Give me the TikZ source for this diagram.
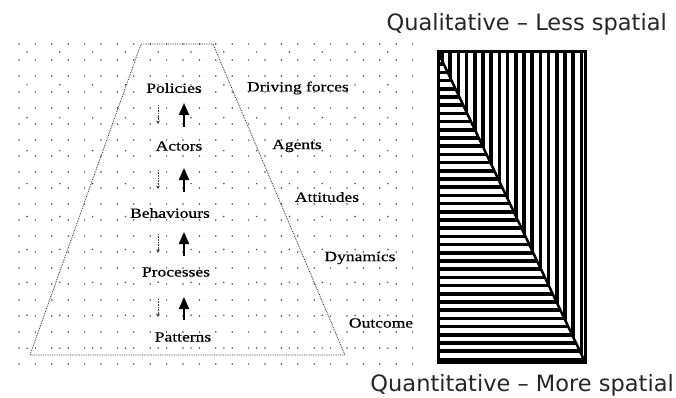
\documentclass[tikz,border=0pt]{standalone}
\usepackage{fontspec}
\usetikzlibrary{arrows.meta}
\newfontfamily\headfont{DejaVu Sans}
\newfontfamily\lblfont[FakeStretch=1.25,FakeBold=0.6]{Liberation Serif}
\begin{document}
\begin{tikzpicture}[x=1pt,y=-1pt,
  griddot/.style={fill=black!70},
  lbl/.style={font=\lblfont\fontsize{14}{15}\selectfont, inner sep=0pt},
  head/.style={font=\headfont\fontsize{22.5}{24}\selectfont, inner sep=0pt, text=black!85},
  uparrow/.style={line width=2pt, -{Triangle[width=10pt,length=12pt]}},
  downarrow/.style={densely dotted, semithick, black!75, -{Stealth[length=3.5pt,width=4pt]}},
  boundary/.style={densely dotted, thick, black!85}]
\useasboundingbox (0,0) rectangle (676,398);
\fill[white] (0,0) rectangle (676,398);
% dot grid
\foreach \j in {0,...,20} {
  \foreach \i in {0,...,24} {
    \fill[griddot] (19+16.4*\i, 44+16*\j) circle (0.85);
  }
}
\foreach \j in {0,...,9} {
  \foreach \i in {0,...,11} {
    \fill[griddot] (27+32.8*\i, 52+32.9*\j) circle (0.85);
  }
}
% dotted trapezoid
\coordinate (tl) at (141,44);
\coordinate (tr) at (213,44);
\coordinate (br) at (345,355);
\coordinate (bl) at (30,355);
\draw[boundary] (tl) -- (tr) -- (br) -- (bl) -- cycle;
% labels
\node[lbl] (pol) at (174,88) {Policies};
\node[lbl] (act) at (179,146) {Actors};
\node[lbl] (beh) at (170,213) {Behaviours};
\node[lbl] (pro) at (176,272) {Processes};
\node[lbl] (pat) at (183,337) {Patterns};
\node[lbl] (drv) at (298,88) {Driving forces};
\node[lbl] (agt) at (297,146) {Agents};
\node[lbl] (att) at (327,197) {Attitudes};
\node[lbl] (dyn) at (360,258) {Dynamics};
\node[lbl] (out) at (381,323) {Outcome};
% arrows
\foreach \a/\b [count=\k] in {103/127, 168/192, 232/256, 297/320} {
  \coordinate (ua\k) at (184,\b);
  \coordinate (ub\k) at (184,\a);
  \draw[uparrow] (ua\k) -- (ub\k);
  \coordinate (da\k) at (158,\a+2);
  \coordinate (db\k) at (158,\b-3);
  \draw[downarrow] (da\k) -- (db\k);
}
% right panel
\coordinate (rtl) at (438,52);
\coordinate (rtr) at (585,52);
\coordinate (rbr) at (585,362);
\coordinate (rbl) at (438,362);
\begin{scope}
  \clip (rtl) -- (rtr) -- (rbr) -- cycle;
  \foreach \i in {0,...,18} {
    \draw[line width=3.6pt] (442+8.2*\i,50) -- (442+8.2*\i,364);
  }
\end{scope}
\begin{scope}
  \clip (rtl) -- (rbr) -- (rbl) -- cycle;
  \foreach \i in {0,...,38} {
    \draw[line width=3.6pt] (436,56+8.2*\i) -- (587,56+8.2*\i);
  }
\end{scope}
\draw[line width=2.5pt] (rtl) -- (rbr);
\draw[line width=3pt] (rtl) rectangle (rbr);
% headings
\node[head, anchor=base east] (qual) at (667,31) {Qualitative – Less spatial};
\node[head, anchor=base east] (quan) at (674,391) {Quantitative – More spatial};
\end{tikzpicture}
\end{document}
